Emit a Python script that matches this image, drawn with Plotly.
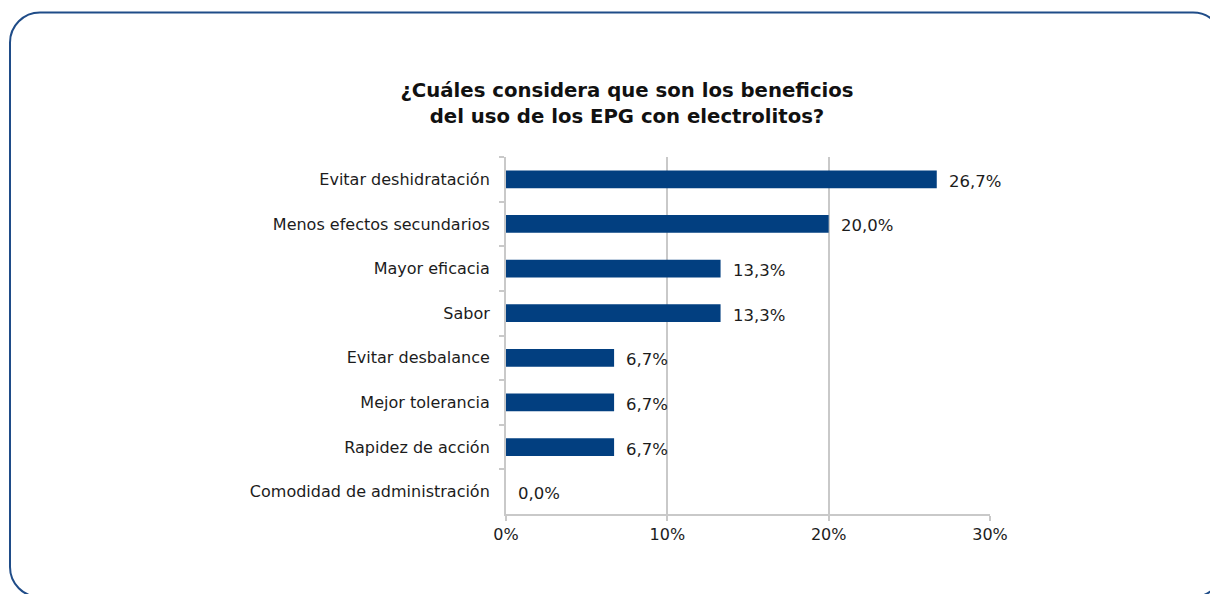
import plotly.graph_objects as go

# Survey responses, listed top to bottom as drawn
categories = [
    "Evitar deshidratación",
    "Menos efectos secundarios",
    "Mayor eficacia",
    "Sabor",
    "Evitar desbalance",
    "Mejor tolerancia",
    "Rapidez de acción",
    "Comodidad de administración",
]
values = [26.7, 20.0, 13.3, 13.3, 6.7, 6.7, 6.7, 0.0]
x_ticks = [0, 10, 20, 30]
x_tick_labels = ["0%", "10%", "20%", "30%"]

W, H = 1210, 594
# plot area in pixels
L, R, T, B = 506, 990, 157, 514

BAR_COLOR = "#023f80"
GRID = "#c9c9c9"
TEXT = "#1c1c1c"
FONT = "DejaVu Sans, Verdana, sans-serif"


def fmt(v):
    return f"{v:.1f}".replace(".", ",") + "%"


fig = go.Figure(
    go.Bar(
        x=values,
        y=categories,
        orientation="h",
        marker=dict(color=BAR_COLOR, line=dict(width=0)),
        width=0.4,
        hoverinfo="skip",
    )
)

# value labels just past each bar end
for c, v in zip(categories, values):
    fig.add_annotation(
        x=v, y=c, xref="x", yref="y",
        text=fmt(v), showarrow=False,
        xanchor="left", yanchor="middle",
        xshift=10, yshift=-2,
        font=dict(family=FONT, size=16.5, color=TEXT),
    )


def px(x):
    return (x - L) / (R - L)


def py(y):
    return (B - y) / (B - T)


# rounded frame around the figure
fl, ft, fr, fb, rad = 10, 12.5, 1223, 597, 30
k = 0.5523 * rad


def P(x, y):
    return f"{px(x):.5f},{py(y):.5f}"


path = (
    f"M {P(fl, ft + rad)} "
    f"C {P(fl, ft + rad - k)} {P(fl + rad - k, ft)} {P(fl + rad, ft)} "
    f"L {P(fr - rad, ft)} "
    f"C {P(fr - rad + k, ft)} {P(fr, ft + rad - k)} {P(fr, ft + rad)} "
    f"L {P(fr, fb - rad)} "
    f"C {P(fr, fb - rad + k)} {P(fr - rad + k, fb)} {P(fr - rad, fb)} "
    f"L {P(fl + rad, fb)} "
    f"C {P(fl + rad - k, fb)} {P(fl, fb - rad + k)} {P(fl, fb - rad)} Z"
)
fig.add_shape(
    type="path", path=path, xref="paper", yref="paper",
    line=dict(color="#1f4c88", width=2), fillcolor="rgba(0,0,0,0)",
    layer="above",
)

fig.update_layout(
    width=W, height=H,
    margin=dict(l=L, r=W - R, t=T, b=H - B, pad=0),
    paper_bgcolor="white",
    plot_bgcolor="white",
    showlegend=False,
    bargap=0.6,
    title=dict(
        text="¿Cuáles considera que son los beneficios<br>del uso de los EPG con electrolitos?",
        x=627 / W, xref="container", xanchor="center",
        y=1 - 97 / H, yref="container", yanchor="middle",
        font=dict(family=FONT, size=19.7, color="#111111", weight="bold"),
    ),
    xaxis=dict(
        range=[0, 30],
        tickmode="array", tickvals=x_ticks, ticktext=x_tick_labels,
        showgrid=True, gridcolor=GRID, gridwidth=2,
        showline=True, linecolor=GRID, linewidth=2,
        ticks="outside", ticklen=5, tickcolor=GRID, tickwidth=2,
        zeroline=False,
        tickfont=dict(family=FONT, size=16, color=TEXT),
        fixedrange=True,
    ),
    yaxis=dict(
        type="category",
        categoryorder="array", categoryarray=categories,
        autorange="reversed",
        showgrid=False,
        showline=True, linecolor=GRID, linewidth=2,
        ticks="outside", ticklen=5, tickcolor=GRID, tickwidth=2,
        tickson="boundaries",
        ticklabelstandoff=11,
        tickfont=dict(family=FONT, size=16, color=TEXT),
        fixedrange=True,
    ),
)

fig.write_html("out.html", config={"displayModeBar": False})
